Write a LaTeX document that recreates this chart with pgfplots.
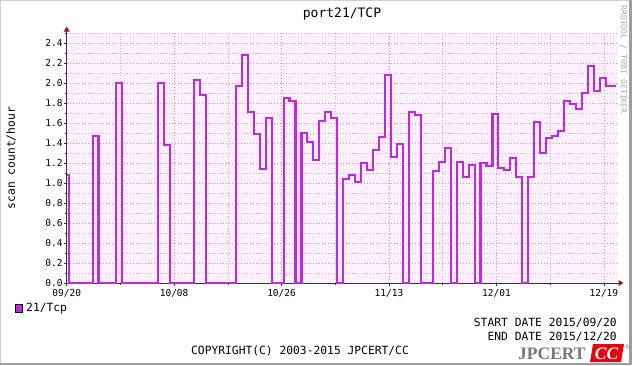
\documentclass[border=0pt]{standalone}
\usepackage{pgfplots}
\pgfplotsset{compat=1.18}
\usepackage{fontspec}
\setmainfont{DejaVu Sans Mono}
\newfontfamily\logofont{Liberation Serif}
\definecolor{linecol}{RGB}{192,40,224}
\definecolor{plotbg}{RGB}{255,240,255}
\definecolor{mgridc}{RGB}{228,150,160}
\definecolor{gridc}{RGB}{200,185,200}
\definecolor{shadeA}{RGB}{207,207,207}
\definecolor{shadeB}{RGB}{158,158,158}
\definecolor{arrowcol}{RGB}{160,25,25}
\definecolor{logogrey}{RGB}{120,120,120}
\definecolor{logored}{RGB}{230,0,18}
\definecolor{wmgrey}{RGB}{175,175,175}

\pgfplotstableread{
x y
0 1.08
0.333 0
4.333 1.47
5.333 0
8.333 2.00
9.333 0
15.333 2.00
16.333 1.38
17.333 0
21.333 2.03
22.333 1.88
23.333 0
28.333 1.97
29.333 2.28
30.333 1.71
31.333 1.49
32.333 1.14
33.333 1.65
34.333 0
36.333 1.85
37.333 1.82
38.333 0
39.333 1.50
40.333 1.41
41.333 1.23
42.333 1.62
43.333 1.71
44.333 1.65
45.333 0
46.333 1.04
47.333 1.08
48.333 1.01
49.333 1.20
50.333 1.13
51.333 1.33
52.333 1.46
53.333 2.08
54.333 1.26
55.333 1.39
56.333 0
57.333 1.71
58.333 1.68
59.333 0
61.333 1.12
62.333 1.21
63.333 1.35
64.333 0
65.333 1.21
66.333 1.06
67.333 1.18
68.333 0
69.333 1.20
70.333 1.17
71.333 1.69
72.333 1.15
73.333 1.13
74.333 1.25
75.333 1.06
76.333 0
77.333 1.06
78.333 1.61
79.333 1.30
80.333 1.45
81.333 1.47
82.333 1.52
83.333 1.82
84.333 1.79
85.333 1.74
86.333 1.90
87.333 2.17
88.333 1.92
89.333 2.05
90.333 1.97
92.1 1.97
}\datatable

\begin{document}
\begin{tikzpicture}[x=1bp,y=1bp]
\fill[white] (0,0) rectangle (632,365);
\fill[shadeA] (0,0) rectangle (1.2,365);
\fill[shadeA] (0,363.8) rectangle (632,365);
\fill[shadeB] (629.2,0) rectangle (632,365);
\fill[shadeB] (0,0) rectangle (632,2);

\begin{axis}[
  at={(66.7bp,82bp)}, anchor=south west,
  scale only axis, width=550.3bp, height=250bp,
  xmin=0, xmax=92.2, ymin=0, ymax=2.5,
  clip=false,
  axis background/.style={fill=plotbg},
  axis lines*=left,
  axis line style={draw=black!80, line width=0.8bp},
  xtick={0,18,36,54,72,90},
  xticklabels={09/20,10/08,10/26,11/13,12/01,12/19},
  minor xtick={9,27,45,63,81},
  ytick={0,0.2,0.4,0.6,0.8,1.0,1.2,1.4,1.6,1.8,2.0,2.2,2.4},
  minor ytick={0.1,0.3,0.5,0.7,0.9,1.1,1.3,1.5,1.7,1.9,2.1,2.3,2.5},
  grid=both,
  major grid style={draw=mgridc, dash pattern=on 1bp off 2bp, line width=0.7bp},
  minor grid style={draw=gridc, dash pattern=on 1bp off 2bp, line width=0.7bp},
  tick style={draw=black!80, line width=0.6bp},
  tick align=outside,
  major tick length=2.5bp, minor tick length=1.5bp,
  /pgf/number format/assume math mode=true,
  yticklabel style={/pgf/number format/.cd, fixed, fixed zerofill, precision=1},
  xticklabel style={yshift=-1.8bp},
  ticklabel style={font=\fontsize{9.5bp}{11bp}\selectfont, inner sep=1.5bp},
]
\addplot[const plot, color=linecol, line width=2.1bp, line join=miter] table[x=x,y=y] {\datatable};
\end{axis}

% axis arrows
\draw[black!80, line width=0.8bp] (616,82) -- (619,82);
\fill[arrowcol] (623.5,82) -- (618.5,85) -- (618.5,79) -- cycle;
\draw[black!80, line width=0.8bp] (66.7,331) -- (66.7,334);
\fill[arrowcol] (66.7,338.5) -- (63.7,333.5) -- (69.7,333.5) -- cycle;

% title and labels
\node[font=\fontsize{13bp}{15bp}\selectfont, inner sep=0] at (342,351) {port21/TCP};
\node[font=\fontsize{11.3bp}{13bp}\selectfont, rotate=90, inner sep=0] at (11,207) {scan count/hour};
\node[font=\fontsize{8.2bp}{9bp}\selectfont, text=wmgrey, rotate=-90, anchor=west, inner sep=0] at (623.5,360) {RRDTOOL / TOBI OETIKER};

% legend
\filldraw[fill=linecol, draw=black, line width=0.6bp] (15.5,52.5) rectangle (22.5,60.5);
\node[font=\fontsize{11.3bp}{13bp}\selectfont, anchor=west, inner sep=0] at (26,56.5) {21/Tcp};

% dates and copyright
\node[font=\fontsize{11.3bp}{13bp}\selectfont, anchor=east, inner sep=0] at (617,42) {START DATE 2015/09/20};
\node[font=\fontsize{11.3bp}{13bp}\selectfont, anchor=east, inner sep=0] at (617,28) {END DATE 2015/12/20};
\node[font=\fontsize{11.3bp}{13bp}\selectfont, inner sep=0] at (300,14) {COPYRIGHT(C) 2003-2015 JPCERT/CC};

% logo
\node[font=\logofont\bfseries\fontsize{17.5bp}{18bp}\selectfont, text=logogrey, anchor=base west, inner sep=0] at (518,6) {JPCERT};
\fill[logored] (590,3) -- (621,3) -- (624,21) -- (593,21) -- cycle;
\node[font=\logofont\bfseries\itshape\fontsize{17.5bp}{18bp}\selectfont, text=white, anchor=base, inner sep=0] at (606.5,6) {CC};
\node[font=\logofont\fontsize{7bp}{8bp}\selectfont, text=logogrey, inner sep=0] at (627.5,18) {\textregistered};

\pgfresetboundingbox
\path[use as bounding box] (0,0) rectangle (632,365);
\end{tikzpicture}
\end{document}
